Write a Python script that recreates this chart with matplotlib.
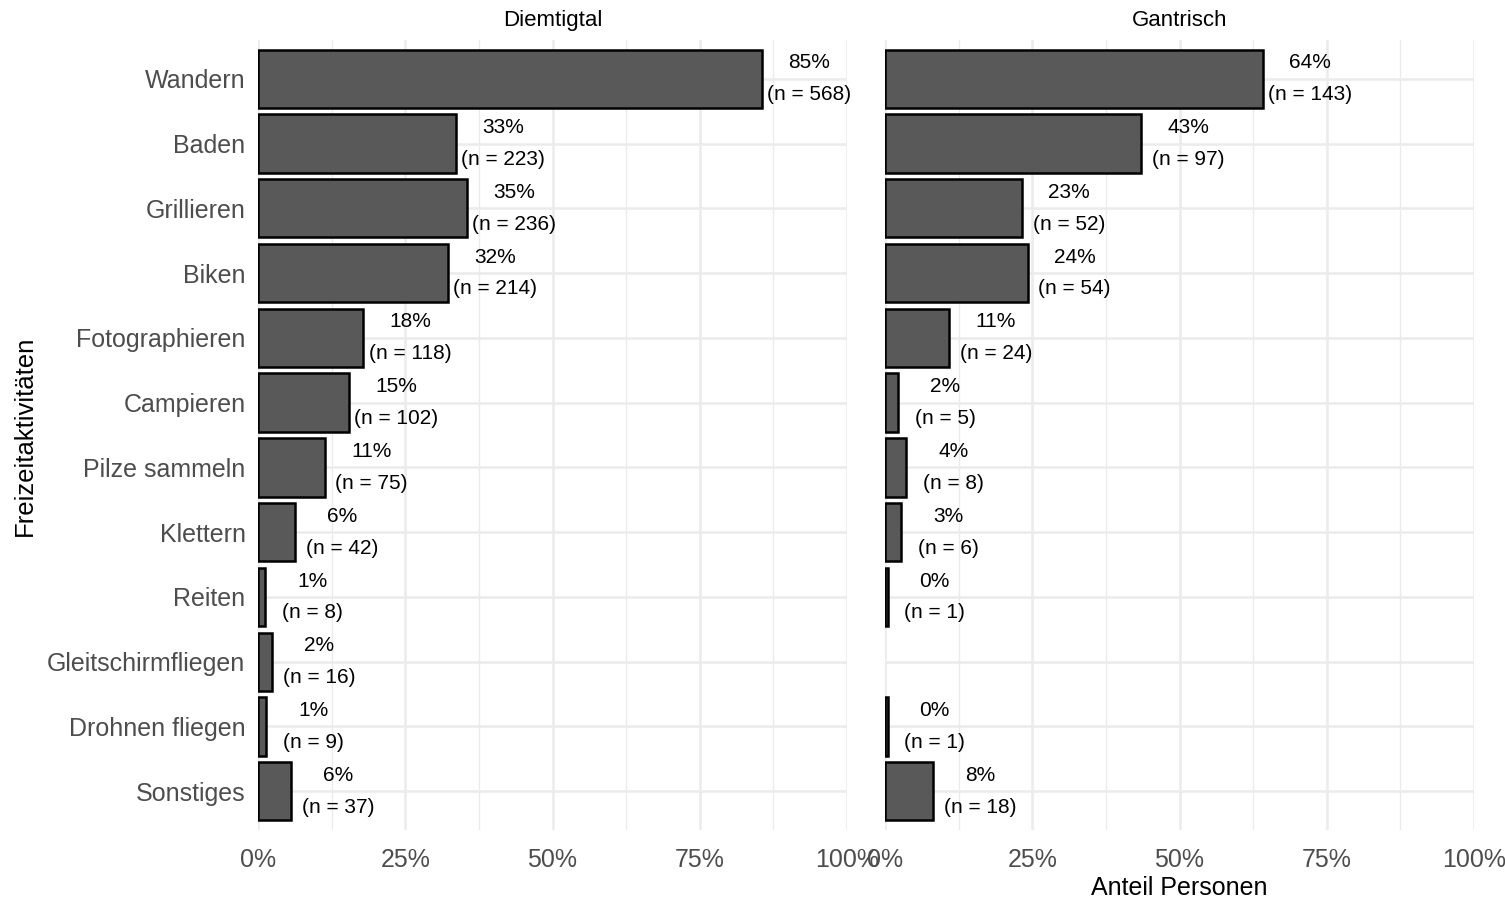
import numpy as np
import matplotlib.pyplot as plt
from matplotlib.ticker import MultipleLocator, FuncFormatter

plt.rcParams['font.family'] = ['Liberation Sans', 'DejaVu Sans']

activities = ['Wandern', 'Baden', 'Grillieren', 'Biken', 'Fotographieren', 'Campieren',
              'Pilze sammeln', 'Klettern', 'Reiten', 'Gleitschirmfliegen', 'Drohnen fliegen',
              'Sonstiges']

# Diemtigtal
diem_share = [0.855, 0.336, 0.355, 0.322, 0.178, 0.154, 0.113, 0.063, 0.012, 0.024, 0.0136, 0.056]
diem_n = [568, 223, 236, 214, 118, 102, 75, 42, 8, 16, 9, 37]
diem_pct = ['85%', '33%', '35%', '32%', '18%', '15%', '11%', '6%', '1%', '2%', '1%', '6%']

# Gantrisch (no Gleitschirmfliegen)
gant_share = [0.641, 0.435, 0.233, 0.242, 0.108, 0.022, 0.036, 0.027, 0.0045, None, 0.0045, 0.081]
gant_n = [143, 97, 52, 54, 24, 5, 8, 6, 1, None, 1, 18]
gant_pct = ['64%', '43%', '23%', '24%', '11%', '2%', '4%', '3%', '0%', None, '0%', '8%']

W, H = 1505, 901
fig = plt.figure(figsize=(W / 100, H / 100), dpi=100)

bottom = 1 - 830 / H
height = (830 - 40) / H
ax1 = fig.add_axes([258 / W, bottom, (847 - 258) / W, height])
ax2 = fig.add_axes([885 / W, bottom, (1474 - 885) / W, height])

grid_col = '#EBEBEB'
tick_col = '#4D4D4D'


def draw_panel(ax, shares, ns, pcts, title):
    ypos = np.arange(len(activities))
    for i, (s, n, p) in enumerate(zip(shares, ns, pcts)):
        if s is None:
            continue
        ax.barh(ypos[i], s, height=0.9, color='#595959', edgecolor='black',
                linewidth=1.8, zorder=3)
        ax.text(s + 0.08, ypos[i], p + '\n(n = ' + str(n) + ')', ha='center', va='center',
                fontsize=15, linespacing=1.85, color='black', zorder=4, clip_on=False)
    ax.set_xlim(0, 1)
    ax.set_ylim(len(activities) - 0.4, -0.6)
    ax.set_yticks(ypos)
    ax.xaxis.set_major_locator(MultipleLocator(0.25))
    ax.xaxis.set_minor_locator(MultipleLocator(0.125))
    ax.xaxis.set_major_formatter(FuncFormatter(lambda v, pos: '%d%%' % round(v * 100)))
    ax.grid(axis='x', which='major', color=grid_col, linewidth=1.8, zorder=0)
    ax.grid(axis='x', which='minor', color=grid_col, linewidth=1.0, zorder=0)
    ax.grid(axis='y', which='major', color=grid_col, linewidth=1.8, zorder=0)
    for sp in ax.spines.values():
        sp.set_visible(False)
    ax.tick_params(axis='both', which='both', length=0)
    ax.tick_params(axis='x', labelsize=18, labelcolor=tick_col, pad=13)
    ax.tick_params(axis='y', labelsize=18, labelcolor=tick_col, pad=9)
    ax.set_title(title, fontsize=16, pad=10)


draw_panel(ax1, diem_share, diem_n, diem_pct, 'Diemtigtal')
draw_panel(ax2, gant_share, gant_n, gant_pct, 'Gantrisch')

ax1.set_yticklabels(activities)
ax2.set_yticklabels([])
ax2.set_xlabel('Anteil Personen', fontsize=18, labelpad=3)
fig.text(25 / W, 1 - 436 / H, 'Freizeitaktivitäten', rotation=90, fontsize=18.5,
         ha='center', va='center')

fig.savefig('out.png', dpi=100)
